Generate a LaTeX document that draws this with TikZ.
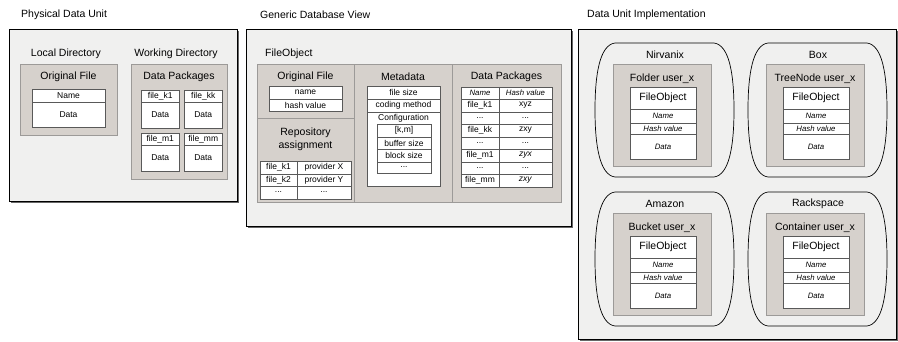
\documentclass[tikz,border=0pt]{standalone}
\usepackage{fontspec}
\setmainfont{Liberation Sans}
\usetikzlibrary{shadows}
\definecolor{unitbg}{HTML}{F0F0EF}
\definecolor{pkgbg}{HTML}{D6D1CC}
\definecolor{pkgline}{HTML}{9C9A98}
\newcommand{\rowdots}{...}
\tikzset{
unit/.style={draw=black, fill=unitbg, line width=0.8pt,
  drop shadow={shadow xshift=1.6pt, shadow yshift=-1.6pt, fill=black!60, opacity=1}}, % the three outer views
pkg/.style={draw=pkgline, fill=pkgbg, line width=0.7pt}, % gray containers
cell/.style={draw=black!65, fill=white, line width=0.5pt}, % white tables
blob/.style={draw=black, line width=0.7pt}, % provider outlines
bigtxt/.style={font=\fontsize{10.5}{13}\selectfont, inner sep=0pt},
smalltxt/.style={font=\fontsize{8.5}{10}\selectfont, inner sep=0pt},
ittxt/.style={font=\fontsize{7.8}{9}\itshape\selectfont, inner sep=0pt},
}

\begin{document}
\begin{tikzpicture}[x=1pt, y=-1pt]
  \useasboundingbox (0,0) rectangle (898,341);

  % Physical Data Unit
  \node[bigtxt, anchor=west] (pdu) at (21,15) {Physical Data Unit};
  \draw[unit] (9,29) rectangle (237,201);
  \node[bigtxt] (localdir) at (66,54) {Local Directory};
  \draw[pkg] (20,64) rectangle (117,135);
  \node[bigtxt] (origfile) at (68.5,77) {Original File};
  \draw[cell] (32,89) rectangle (105,127);
  \draw[cell] (32,102) -- (105,102);
  \node[smalltxt] (of-name) at (68.5,95.5) {Name};
  \node[smalltxt] (of-data) at (68.5,114.5) {Data};

  \node[bigtxt] (workdir) at (176,54) {Working Directory};
  \draw[pkg] (131,64) rectangle (227,179);
  \node[bigtxt] (packages) at (179,77) {Data Packages};
  \foreach \bx/\by/\fn in {141/90/file\_k1, 184/90/file\_kk, 141/133/file\_m1, 184/133/file\_mm}{
    \draw[cell] (\bx,\by) rectangle ({\bx+38.5},{\by+38});
    \draw[cell] (\bx,{\by+12}) -- ({\bx+38.5},{\by+12});
    \node[smalltxt] (pk-\bx-\by) at ({\bx+19.25},{\by+6}) {\fn};
    \node[smalltxt] (pd-\bx-\by) at ({\bx+19.25},{\by+25}) {Data};
  }

  % Generic Database View
  \node[bigtxt, anchor=west] (gdv) at (260,15) {Generic Database View};
  \draw[unit] (246,29) rectangle (571,226);
  \node[bigtxt, anchor=west] (fileobj) at (265,54) {FileObject};
  \draw[pkg] (257,64) rectangle (354,118);
  \draw[pkg] (257,118) rectangle (354,202);
  \draw[pkg] (354,64) rectangle (452,202);
  \draw[pkg] (452,64) rectangle (561,202);

  \node[bigtxt] (db-orig) at (305.5,77) {Original File};
  \draw[cell] (269,86) rectangle (342,111);
  \draw[cell] (269,99) -- (342,99);
  \node[smalltxt] (db-name) at (305.5,92.5) {name};
  \node[smalltxt] (db-hash) at (305.5,105) {hash value};

  \node[bigtxt, align=center] (repo) at (305.5,139.5) {Repository\\assignment};
  \draw[cell] (260,161) rectangle (351,199);
  \foreach \y in {174,186} \draw[cell] (260,\y) -- (351,\y);
  \draw[cell] (297,161) -- (297,199);
  \node[smalltxt] (repo-f1) at (278.5,167.5) {file\_k1};
  \node[smalltxt] (repo-p1) at (324,167.5) {provider X};
  \node[smalltxt] (repo-f2) at (278.5,180) {file\_k2};
  \node[smalltxt] (repo-p2) at (324,180) {provider Y};
  \node[smalltxt] (repo-f3) at (278.5,192) {\rowdots};
  \node[smalltxt] (repo-p3) at (324,192) {\rowdots};

  \node[bigtxt] (meta) at (403,77) {Metadata};
  \draw[cell] (367,86) rectangle (440,186);
  \foreach \y in {99,112} \draw[cell] (367,\y) -- (440,\y);
  \node[smalltxt] (meta-size) at (403.5,92.5) {file size};
  \node[smalltxt] (meta-code) at (403.5,105.5) {coding method};
  \node[smalltxt] (meta-conf) at (403.5,118) {Configuration};
  \draw[cell] (377,124) rectangle (431,173);
  \foreach \y in {137,149,162} \draw[cell] (377,\y) -- (431,\y);
  \node[smalltxt] (conf-km) at (404,130.5) {[k,m]};
  \node[smalltxt] (conf-buf) at (404,143) {buffer size};
  \node[smalltxt] (conf-blk) at (404,155.5) {block size};
  \node[smalltxt] (conf-more) at (404,167.5) {\rowdots};

  \node[bigtxt] (db-pkg) at (506.5,77) {Data Packages};
  \draw[cell] (461,87) rectangle (552,187);
  \foreach \y in {99,112,124,137,149,162,174} \draw[cell] (461,\y) -- (552,\y);
  \draw[cell] (499,87) -- (499,187);
  \node[ittxt] (hd-name) at (480,93) {Name};
  \node[ittxt] (hd-hash) at (525.5,93) {Hash value};
  \foreach \yc/\nm/\hv [count=\i] in {105.5/file\_k1/xyz, 118/\rowdots/\rowdots, 130.5/file\_kk/zxy,
      143/\rowdots/\rowdots, 155.5/file\_m1/\textit{zyx}, 168/\rowdots/\rowdots, 180.5/file\_mm/\textit{zxy}}{
    \node[smalltxt] (row-\i-name) at (480,\yc) {\nm};
    \node[smalltxt] (row-\i-hash) at (525.5,\yc) {\hv};
  }

  % Data Unit Implementation
  \node[bigtxt, anchor=west] (dui) at (587,15) {Data Unit Implementation};
  \draw[unit] (578,29) rectangle (896,339);
  \foreach \px/\py/\prov/\cont in {595/43/Nirvanix/Folder, 748/43/Box/TreeNode,
      595/192/Amazon/Bucket, 748/192/Rackspace/Container}{
    \draw[blob] ({\px+20},\py) -- ({\px+119},\py)
      .. controls ({\px+134},{\py+2}) and ({\px+139},{\py+30}) .. ({\px+139},{\py+67})
      .. controls ({\px+139},{\py+104}) and ({\px+134},{\py+132}) .. ({\px+119},{\py+134})
      -- ({\px+20},{\py+134})
      .. controls ({\px+5},{\py+132}) and (\px,{\py+104}) .. (\px,{\py+67})
      .. controls (\px,{\py+30}) and ({\px+5},{\py+2}) .. ({\px+20},\py) -- cycle;
    \node[bigtxt] (\prov-name) at ({\px+70},{\py+12}) {\prov};
    \draw[pkg] ({\px+18},{\py+21}) rectangle ({\px+116},{\py+123});
    \node[bigtxt] (\prov-store) at ({\px+67},{\py+36}) {\cont{} user\_x};
    \draw[cell] ({\px+35},{\py+44}) rectangle ({\px+101},{\py+116});
    \foreach \dy in {66,80,91} \draw[cell] ({\px+35},{\py+\dy}) -- ({\px+101},{\py+\dy});
    \node[bigtxt] (\prov-obj) at ({\px+68},{\py+55}) {FileObject};
    \node[ittxt] (\prov-nm) at ({\px+68},{\py+73}) {Name};
    \node[ittxt] (\prov-hv) at ({\px+68},{\py+85.5}) {Hash value};
    \node[ittxt] (\prov-dt) at ({\px+68},{\py+103.5}) {Data};
  }
\end{tikzpicture}
\end{document}
